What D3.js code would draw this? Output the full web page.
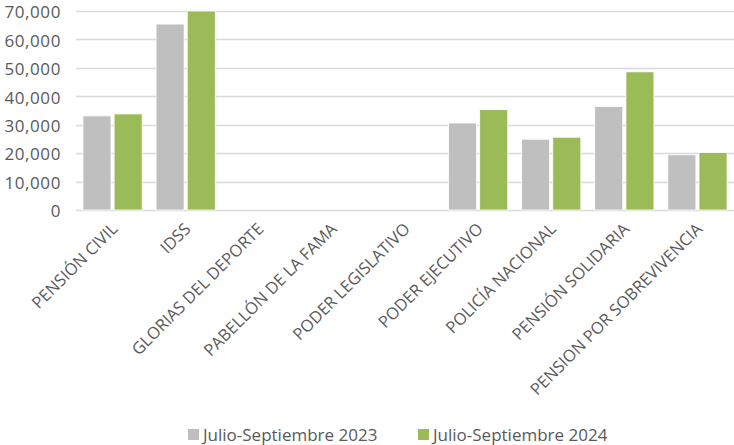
<!DOCTYPE html>
<html>
<head>
<meta charset="utf-8">
<script src="https://cdn.jsdelivr.net/npm/d3@7"></script>
<style>
  body { margin: 0; background: #fff; }
  svg text { font-family: "Open Sans", sans-serif; fill: #595959; }
</style>
</head>
<body>
<div id="chart"></div>
<script>
const categories = [
    "PENSIÓN CIVIL", "IDSS", "GLORIAS DEL DEPORTE", "PABELLÓN DE LA FAMA",
    "PODER LEGISLATIVO", "PODER EJECUTIVO", "POLICÍA NACIONAL",
    "PENSIÓN SOLIDARIA", "PENSION POR SOBREVIVENCIA"
];
const series2023 = [33100, 65400, 0, 0, 0, 30600, 24900, 36400, 19400];
const series2024 = [33800, 70000, 0, 0, 0, 35300, 25600, 48600, 20200];
const seriesNames = ["Julio-Septiembre 2023", "Julio-Septiembre 2024"];
const yTicks = [0, 10000, 20000, 30000, 40000, 50000, 60000, 70000];

const colors = ["#BFBFBF", "#9BBB59"];

const W = 734, H = 445;
const margin = { top: 11, right: 0, bottom: 235, left: 76 };
const width = W - margin.left - margin.right;
const height = H - margin.top - margin.bottom;

const svg = d3.select("#chart").append("svg")
    .attr("width", W)
    .attr("height", H);

const g = svg.append("g")
    .attr("transform", `translate(${margin.left}, ${margin.top})`);

const x = d3.scaleBand().domain(categories).range([0, width]).paddingInner(0.19).paddingOuter(0.095);
const xs = d3.scaleBand().domain([0, 1]).range([0, x.bandwidth()]).paddingInner(0.1);
const y = d3.scaleLinear().domain([0, 70000]).range([height, 0]);

// gridlines
g.append("g")
    .selectAll("line")
    .data(yTicks)
    .enter()
    .append("line")
    .attr("x1", 0)
    .attr("x2", width)
    .attr("y1", d => Math.round(y(d)) + 0.5)
    .attr("y2", d => Math.round(y(d)) + 0.5)
    .attr("stroke", "#D9D9D9")
    .attr("stroke-width", 1.3);

// y labels
g.append("g")
    .selectAll("text")
    .data(yTicks)
    .enter()
    .append("text")
    .attr("x", -15)
    .attr("y", d => y(d))
    .attr("dy", "0.43em")
    .attr("text-anchor", "end")
    .style("font-size", "17px")
    .style("letter-spacing", "0.6px")
    .text(d => d3.format(",")(d));

// bars
const data = categories.map((c, i) => ({ cat: c, vals: [series2023[i], series2024[i]] }));
const groups = g.selectAll(".grp")
    .data(data)
    .enter()
    .append("g")
    .attr("transform", d => `translate(${x(d.cat)}, 0)`);

groups.selectAll("rect")
    .data(d => d.vals.map((v, k) => ({ v, k })))
    .enter()
    .append("rect")
    .filter(d => d.v > 0)
    .attr("x", d => xs(d.k))
    .attr("width", xs.bandwidth())
    .attr("y", d => y(d.v))
    .attr("height", d => height - y(d.v))
    .attr("fill", d => colors[d.k])
    .attr("stroke", "#fff")
    .attr("stroke-width", 0.8);

// category labels
g.append("g")
    .selectAll("text")
    .data(categories)
    .enter()
    .append("text")
    .attr("text-anchor", "end")
    .style("font-size", "16.5px")
    .attr("transform", d => `translate(${x(d) + x.bandwidth() / 2 + 6}, ${height + 20}) rotate(-45)`)
    .text(d => d);

// legend
const legendX = [188, 418];
const legend = svg.selectAll(".legend")
    .data(seriesNames)
    .enter()
    .append("g")
    .attr("transform", (d, i) => `translate(${legendX[i]}, 429)`);

legend.append("rect")
    .attr("width", 11)
    .attr("height", 11)
    .attr("fill", (d, i) => colors[i]);

legend.append("text")
    .attr("x", 15)
    .attr("y", 12)
    .style("font-size", "17px")
    .text(d => d);
</script>
</body>
</html>
